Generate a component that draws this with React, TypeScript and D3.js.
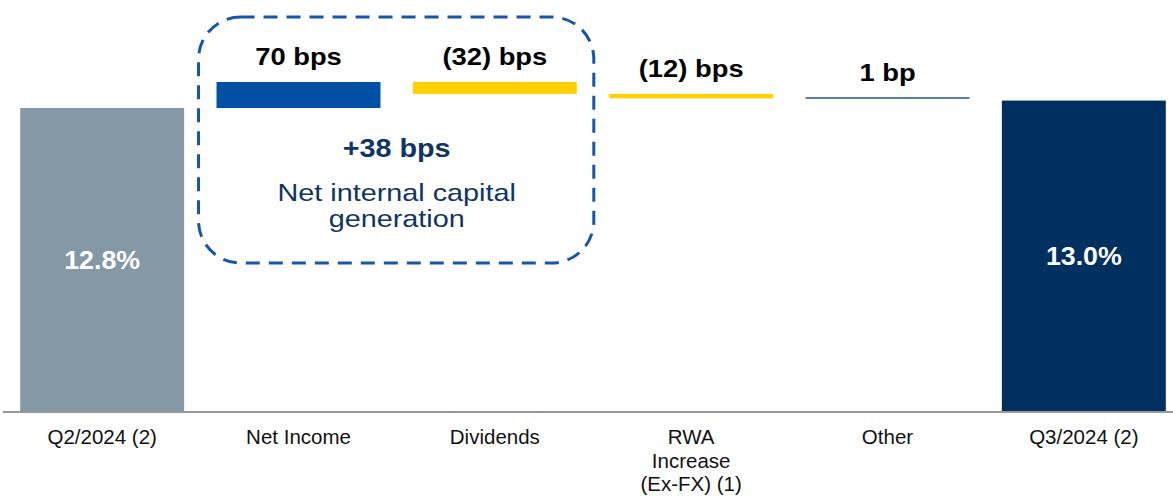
import React from "react";
import * as d3 from "d3";

// CET1 ratio walk, Q2/2024 -> Q3/2024
const categories = ["Q2/2024 (2)", "Net Income", "Dividends", "RWA Increase (Ex-FX) (1)", "Other", "Q3/2024 (2)"];
const categoryLines = [["Q2/2024 (2)"], ["Net Income"], ["Dividends"], ["RWA", "Increase", "(Ex-FX) (1)"], ["Other"], ["Q3/2024 (2)"]];
const startRatio = 12.8; // %
const endRatio = 13.0; // %
const changeCategories = ["Net Income", "Dividends", "RWA Increase (Ex-FX) (1)", "Other"];
const changesBps = [70, -32, -12, 1];
const changeColors = ["#0050A5", "#FFD100", "#FFD100", "#1F55A0"];
const boxedChanges = ["Net Income", "Dividends"];

const W = 1173;
const H = 496;
const FONT = "'Liberation Sans', Arial, Helvetica, sans-serif";

const fmtBps = (v: number) => {
  const a = Math.abs(v);
  const unit = a === 1 ? "bp" : "bps";
  return v < 0 ? `(${a}) ${unit}` : `${a} ${unit}`;
};

function Txt(props: {
  x: number; y: number; sx?: number; size: number; weight?: string | number; fill: string; children: React.ReactNode;
}) {
  const { x, y, sx = 1, size, weight = "normal", fill, children } = props;
  return (
    <text
      transform={`translate(${x},${y}) scale(${sx},1)`}
      textAnchor="middle"
      fontFamily={FONT}
      fontSize={size}
      fontWeight={weight}
      fill={fill}
    >
      {children}
    </text>
  );
}

export default function App() {
  const baseY = 411;

  // running totals for the floating bars
  let run = startRatio;
  const steps = changesBps.map((bps, i) => {
    const from = run;
    const to = run + bps / 100;
    run = to;
    return { cat: changeCategories[i], bps, from, to, color: changeColors[i] };
  });
  const maxVal = d3.max(steps, (s) => Math.max(s.from, s.to)) as number;

  const x = d3.scaleBand<string>().domain(categories).range([4, 1182]).paddingInner(0.165).paddingOuter(0.0825);
  const y = d3.scaleLinear().domain([4.65, maxVal]).range([baseY, 82]);
  const bw = x.bandwidth();
  const cx = (c: string) => (x(c) as number) + bw / 2;

  const totals = [
    { cat: categories[0], value: startRatio, color: "#8598A6" },
    { cat: categories[5], value: endRatio, color: "#00305F" },
  ];

  const netBps = d3.sum(steps.filter((s) => boxedChanges.includes(s.cat)), (s) => s.bps);
  const boxL = (x(boxedChanges[0]) as number) - 18;
  const boxR = (x(boxedChanges[1]) as number) + bw + 17;
  const boxMid = (cx(boxedChanges[0]) + cx(boxedChanges[1])) / 2;

  return (
    <svg width={W} height={H} style={{ position: "absolute", left: 0, top: 0, background: "#fff" }}>
      {/* dashed grouping frame */}
      <rect x={boxL} y={17} width={boxR - boxL} height={246} rx={42} ry={42}
        fill="none" stroke="#1656A8" strokeWidth={3} strokeDasharray="14 9" />

      {/* start / end totals */}
      {totals.map((t) => {
        const top = y(t.value);
        return (
          <g key={t.cat}>
            <rect x={x(t.cat)} y={top} width={bw} height={baseY - top} fill={t.color} />
            <Txt x={cx(t.cat)} y={(top + baseY) / 2 + 9.5} size={26} weight="bold" fill="#fff" sx={1.03}>
              {`${t.value.toFixed(1)}%`}
            </Txt>
          </g>
        );
      })}

      {/* floating change bars */}
      {steps.map((s) => {
        const top = y(Math.max(s.from, s.to));
        const bot = y(Math.min(s.from, s.to));
        const h = bot - top;
        return (
          <g key={s.cat}>
            {h >= 1.5 ? (
              <rect x={x(s.cat)} y={top} width={bw} height={h} fill={s.color} />
            ) : (
              <line x1={x(s.cat)} x2={(x(s.cat) as number) + bw} y1={top} y2={top} stroke={s.color} strokeWidth={1.5} />
            )}
            <Txt x={cx(s.cat)} y={top - 17} size={23} weight="bold" fill="#000" sx={1.19}>
              {fmtBps(s.bps)}
            </Txt>
          </g>
        );
      })}

      {/* net internal capital generation callout */}
      <Txt x={boxMid} y={157} size={25} weight="bold" fill="#0F3566" sx={1.15}>
        {`+${netBps} bps`}
      </Txt>
      <Txt x={boxMid} y={201} size={24} fill="#0F3566" sx={1.2}>Net internal capital</Txt>
      <Txt x={boxMid} y={227} size={24} fill="#0F3566" sx={1.2}>generation</Txt>

      {/* baseline */}
      <line x1={3} x2={W} y1={baseY + 1} y2={baseY + 1} stroke="#999" strokeWidth={2} />

      {/* category labels */}
      {categories.map((c, i) => (
        <g key={c}>
          {categoryLines[i].map((ln, j) => (
            <Txt key={j} x={cx(c)} y={444 + j * 23.5} size={20.5} fill="#111">{ln}</Txt>
          ))}
        </g>
      ))}
    </svg>
  );
}
